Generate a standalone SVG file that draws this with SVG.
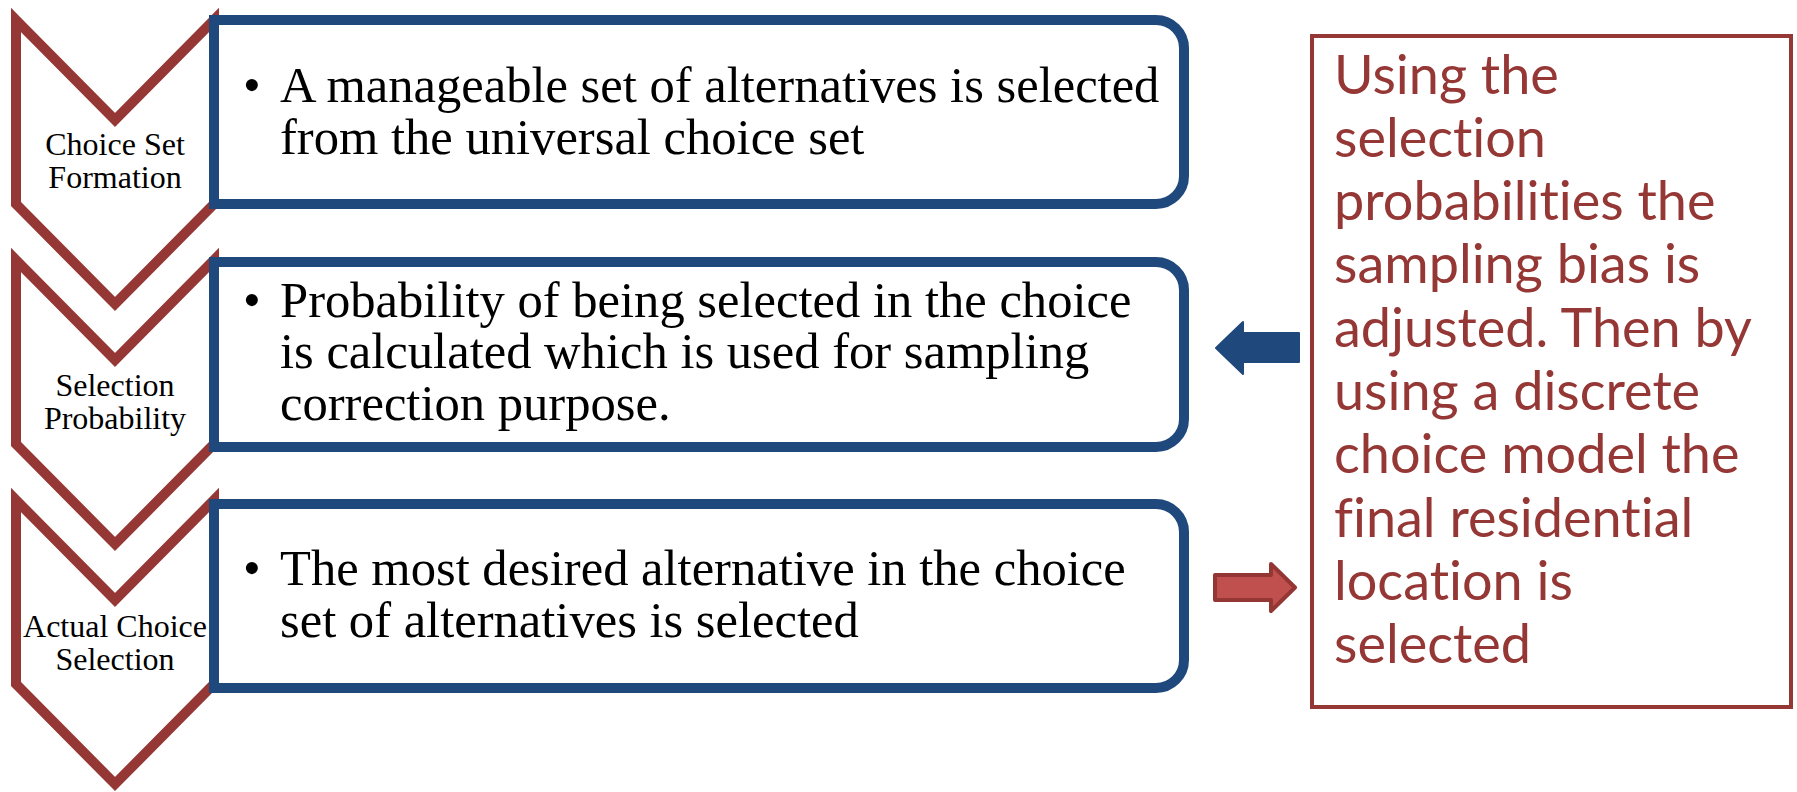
<svg xmlns="http://www.w3.org/2000/svg" width="1797" height="792" viewBox="0 0 1797 792">
  <style>
    .chev { fill: #ffffff; stroke: #953735; stroke-width: 10; stroke-linejoin: miter; }
    .box { fill: #ffffff; stroke: #1F497D; stroke-width: 10; }
    .step { font-family: "Liberation Serif", "Times New Roman", serif; font-size: 32px; fill: #000000; text-anchor: middle; }
    .body { font-family: "Liberation Serif", "Times New Roman", serif; font-size: 50.6px; fill: #000000; }
    .note { font-family: Lato, "Noto Sans", sans-serif; font-size: 54px; fill: #953735; font-variant-ligatures: none; }
  </style>

  <!-- step chevrons -->
  <g id="step-formation">
    <polygon class="chev" points="16,20 115,120 214,20 214,204 115,304 16,204"/>
    <text class="step" x="115" y="155">Choice Set</text>
    <text class="step" x="115" y="188">Formation</text>
  </g>
  <g id="step-probability">
    <polygon class="chev" points="16,260 115,360 214,260 214,444 115,544 16,444"/>
    <text class="step" x="115" y="396">Selection</text>
    <text class="step" x="115" y="429">Probability</text>
  </g>
  <g id="step-selection">
    <polygon class="chev" points="16,500 115,600 214,500 214,684 115,784 16,684"/>
    <text class="step" x="115" y="637">Actual Choice</text>
    <text class="step" x="115" y="670">Selection</text>
  </g>

  <!-- description boxes -->
  <g id="desc-formation">
    <path class="box" d="M214,20 H1156 A28,28 0 0 1 1184,48 V176 A28,28 0 0 1 1156,204 H214 Z"/>
    <text class="body" x="243" y="102">•</text>
    <text class="body" x="280" y="102">A manageable set of alternatives is selected</text>
    <text class="body" x="280" y="154">from the universal choice set</text>
  </g>
  <g id="desc-probability">
    <path class="box" d="M214,262 H1156 A28,28 0 0 1 1184,290 V419 A28,28 0 0 1 1156,447 H214 Z"/>
    <text class="body" x="243" y="317">•</text>
    <text class="body" x="280" y="317">Probability of being selected in the choice</text>
    <text class="body" x="280" y="368">is calculated which is used for sampling</text>
    <text class="body" x="280" y="420">correction purpose.</text>
  </g>
  <g id="desc-selection">
    <path class="box" d="M214,504 H1156 A28,28 0 0 1 1184,532 V660 A28,28 0 0 1 1156,688 H214 Z"/>
    <text class="body" x="243" y="585">•</text>
    <text class="body" x="280" y="585">The most desired alternative in the choice</text>
    <text class="body" x="280" y="637">set of alternatives is selected</text>
  </g>

  <!-- side note -->
  <g id="note">
    <rect x="1312" y="36" width="479" height="671" fill="#ffffff" stroke="#953735" stroke-width="4"/>
    <text class="note" x="1334" y="93.5">Using the</text>
    <text class="note" x="1334" y="156.8">selection</text>
    <text class="note" x="1334" y="220.1">probabilities the</text>
    <text class="note" x="1334" y="283.4">sampling bias is</text>
    <text class="note" x="1334" y="346.7">adjusted. Then by</text>
    <text class="note" x="1334" y="410">using a discrete</text>
    <text class="note" x="1334" y="473.3">choice model the</text>
    <text class="note" x="1334" y="536.6">final residential</text>
    <text class="note" x="1334" y="599.9">location is</text>
    <text class="note" x="1334" y="663.2">selected</text>
  </g>

  <!-- connectors -->
  <g id="connectors">
    <polygon points="1216,348 1243,322 1243,333 1299,333 1299,362 1243,362 1243,374" fill="#1F497D" stroke="#1F497D" stroke-width="2" stroke-linejoin="round"/>
    <polygon points="1215,575 1271,575 1271,564 1295,587.5 1271,611 1271,600 1215,600" fill="#C0504D" stroke="#943634" stroke-width="4" stroke-linejoin="round"/>
  </g>
</svg>
